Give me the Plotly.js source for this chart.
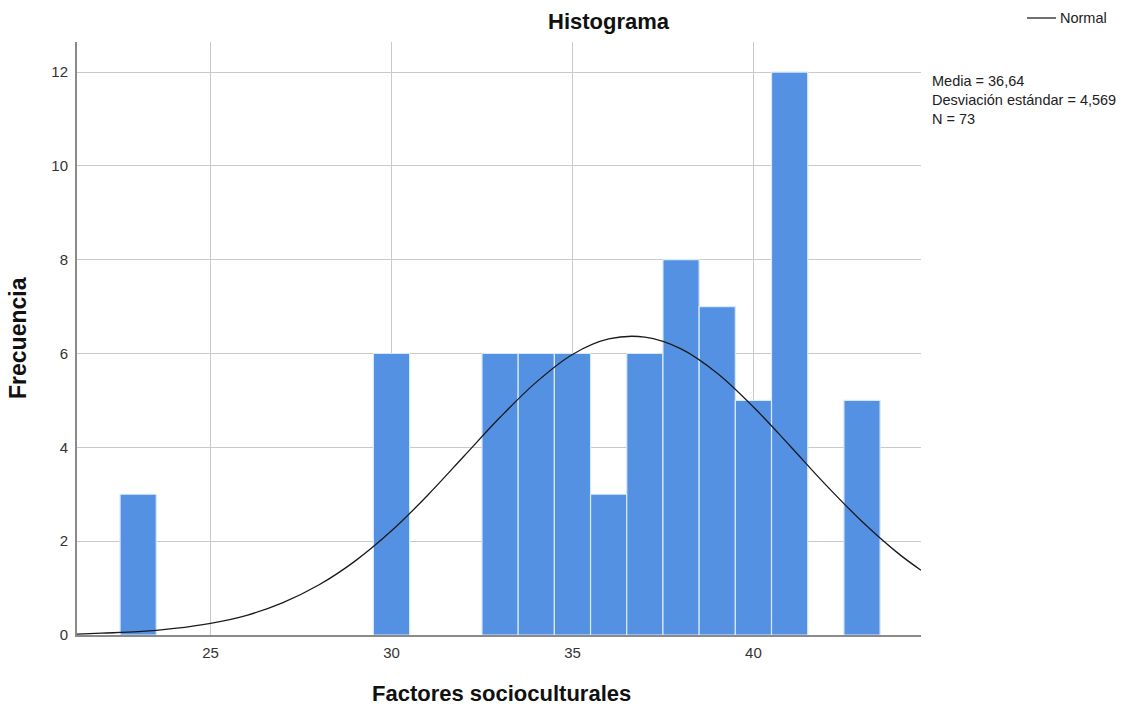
<!DOCTYPE html>
<html>
<head>
<meta charset="utf-8">
<script src="https://cdn.plot.ly/plotly-3.0.1.min.js"></script>
<style>html,body{margin:0;padding:0;background:#fff;}#chart{width:1138px;height:706px;}</style>
</head>
<body>
<div id="chart"></div>
<script>
// Histogram bins (bin centres) and counts
const binCenters = [23, 30, 33, 34, 35, 36, 37, 38, 39, 40, 41, 43];
const binCounts  = [3, 6, 6, 6, 6, 3, 6, 8, 7, 5, 12, 5];

// Normal curve
const curveX = [21.31, 22, 23, 24, 25, 26, 27, 28, 29, 30, 31, 32, 33, 34, 35, 36, 37, 38, 39, 40, 41, 42, 43, 44, 44.63];
const curveY = [0.02, 0.04, 0.07, 0.14, 0.25, 0.42, 0.69, 1.07, 1.58, 2.22, 2.98, 3.81, 4.64, 5.39, 5.98, 6.31, 6.35, 6.10, 5.58, 4.86, 4.04, 3.20, 2.42, 1.74, 1.38];

const xTicks = [25, 30, 35, 40];
const yTicks = [0, 2, 4, 6, 8, 10, 12];
const statsLines = ["Media = 36,64", "Desviación estándar = 4,569", "N = 73"];

const FONT = "Arial, 'Liberation Sans', Helvetica, sans-serif";

// plot area in pixels (for placing paper-referenced texts)
const L = 77, R = 921, T = 42, B = 635;
const px = x => (x - L) / (R - L);
const py = y => (B - y) / (B - T);

const traces = [
  {
    type: 'bar',
    x: binCenters,
    y: binCounts,
    width: 1,
    marker: {color: 'rgb(84,145,226)', line: {color: 'rgb(215,233,252)', width: 1.2}},
    showlegend: false,
    hoverinfo: 'x+y'
  },
  {
    type: 'scatter',
    mode: 'lines',
    x: curveX,
    y: curveY,
    line: {color: '#1a1a1a', width: 1.3, shape: 'spline'},
    name: 'Normal',
    showlegend: false
  }
];

const annotations = [
  {text: '<b>Histograma</b>', xref: 'paper', yref: 'paper', x: px(608.5), y: py(22), xanchor: 'center', yanchor: 'middle', showarrow: false, font: {family: FONT, size: 22, color: '#111'}},
  {text: '<b>Factores socioculturales</b>', xref: 'paper', yref: 'paper', x: px(501), y: py(693), xanchor: 'center', yanchor: 'middle', showarrow: false, font: {family: FONT, size: 22, color: '#111'}},
  {text: '<b>Frecuencia</b>', xref: 'paper', yref: 'paper', x: px(18), y: py(338), xanchor: 'center', yanchor: 'middle', textangle: -90, showarrow: false, font: {family: FONT, size: 23, color: '#111'}},
  {text: 'Normal', xref: 'paper', yref: 'paper', x: px(1058), y: py(18), xanchor: 'left', yanchor: 'middle', showarrow: false, font: {family: FONT, size: 14.5, color: '#222'}},
  {text: statsLines.join('<br>'), xref: 'paper', yref: 'paper', x: px(930), y: py(71), xanchor: 'left', yanchor: 'top', align: 'left', showarrow: false, font: {family: FONT, size: 14.5, color: '#222'}}
];

const layout = {
  width: 1138,
  height: 706,
  paper_bgcolor: '#ffffff',
  plot_bgcolor: '#ffffff',
  margin: {l: L, r: 1138 - R, t: T, b: 706 - B},
  font: {family: FONT, size: 15, color: '#222'},
  showlegend: false,
  bargap: 0,
  xaxis: {
    range: [21.31, 44.63],
    tickvals: xTicks,
    ticktext: xTicks.map(String),
    showgrid: true,
    gridcolor: '#c9c9c9',
    gridwidth: 1,
    zeroline: false,
    showline: true,
    linecolor: '#8a8a8a',
    linewidth: 2,
    ticks: '',
    ticklabelstandoff: 3,
    tickfont: {family: FONT, size: 15, color: '#333'}
  },
  yaxis: {
    range: [0, 12.64],
    tickvals: yTicks,
    ticktext: yTicks.map(String),
    showgrid: true,
    gridcolor: '#c9c9c9',
    gridwidth: 1,
    zeroline: false,
    showline: true,
    linecolor: '#8a8a8a',
    linewidth: 2,
    ticks: '',
    ticklabelstandoff: 4,
    tickfont: {family: FONT, size: 15, color: '#333'}
  },
  shapes: [
    {type: 'line', xref: 'paper', yref: 'paper', x0: px(1027), x1: px(1056), y0: py(18), y1: py(18), line: {color: '#222', width: 1.3}}
  ],
  annotations: annotations
};

Plotly.newPlot('chart', traces, layout, {displayModeBar: false, staticPlot: true});
</script>
</body>
</html>
